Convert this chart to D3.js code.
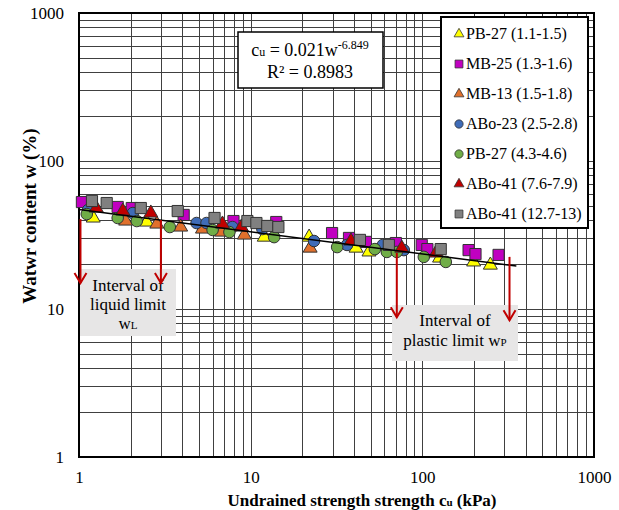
<!DOCTYPE html>
<html>
<head>
<meta charset="utf-8">
<script src="https://cdn.jsdelivr.net/npm/d3@7/dist/d3.min.js"></script>
<style>
	body { margin: 0; background: #fff; }
	svg text { font-family: "Liberation Serif", "Times New Roman", serif; }
</style>
</head>
<body>
<script>
// cu (kPa), w (%)
var pb27a = [[1.21,41.2],[2.48,38.7],[12.0,30.6],[21.9,30.6],[41.1,25.8],[48.9,24.3],[126,22.1],[199,20.8],[249,19.8]]
var mb25 = [[1.04,52.8],[1.68,48.9],[2.03,48.1],[4.07,43.2],[7.94,39.3],[14.1,38.7],[29.8,32.6],[37.4,30.2],[46.9,28.4],[70.1,27.9],[99.2,27.1],[107,25.4],[186,25.0],[204,23.5],[278,23.2]]
var mb13 = [[1.87,39.3],[2.84,37.5],[3.91,35.8],[5.24,34.7],[6.76,33.1],[9.19,31.6],[22.2,25.8]]
var abo23 = [[1.13,46.7],[2.06,44.5],[4.84,38.1],[5.53,38.1],[7.83,35.8],[11.7,34.7],[23.4,28.8],[36.4,27.1],[58.9,27.1],[78.0,25.0]]
var pb27b = [[1.11,43.8],[1.68,41.2],[2.17,39.3],[3.38,35.8],[6.00,34.2],[7.52,33.1],[13.7,30.6],[31.9,26.2],[52.9,25.4],[62.1,24.3],[71.0,24.3],[102,22.5],[137,20.8]]
var abo41a = [[1.26,48.1],[1.80,45.9],[2.62,44.5],[6.85,37.5],[8.83,35.8],[38.4,28.8],[75.9,25.8],[120,23.9]]
var abo41b = [[1.19,53.7],[1.45,52.0],[2.29,48.1],[3.76,45.9],[6.16,41.2],[9.57,39.3],[10.8,38.1],[12.5,36.4],[14.5,35.8],[43.3,29.3],[63.8,27.1],[128,25.4]]

var seriesNames = ['PB-27 (1.1-1.5)','MB-25 (1.3-1.6)','MB-13 (1.5-1.8)','ABo-23 (2.5-2.8)','PB-27 (4.3-4.6)','ABo-41 (7.6-7.9)','ABo-41 (12.7-13)']
var seriesData = [pb27a, mb25, mb13, abo23, pb27b, abo41a, abo41b]

var trendPoints = [[1,47],[353,19.5]]
// arrows: cu, top w, tip w
var arrowCu = [1.02, 3.0, 71, 322]
var arrowTop = [40.5, 39.9, 23.9, 22.5]
var arrowTip = [15.0, 15.0, 8.8, 8.4]

var xTickLabels = [1, 10, 100, 1000]
var yTickLabels = [1, 10, 100, 1000]

var colors = ['#ffff00','#c000c0','#e0702c','#3f6cb8','#70ad47','#c00000','#808080']
var shapes = [d3.symbolTriangle, d3.symbolSquare, d3.symbolTriangle, d3.symbolCircle, d3.symbolCircle, d3.symbolTriangle, d3.symbolSquare]
var bigSize = [85, 125, 85, 105, 105, 85, 125]
var smallSize = [42, 62, 42, 54, 54, 42, 62]

var svg = d3.select('body').append('svg')
	.attr('width', 619)
	.attr('height', 510)

var x = d3.scaleLog().domain([1, 1000]).range([79, 594])
var y = d3.scaleLog().domain([1, 1000]).range([457, 13])

// grid
svg.append('g').selectAll('line').data(x.ticks()).enter().append('line')
	.attr('x1', function(d){ return Math.round(x(d)) + 0.5 })
	.attr('x2', function(d){ return Math.round(x(d)) + 0.5 })
	.attr('y1', y(1000))
	.attr('y2', y(1))
	.style('stroke', '#404040')
	.style('stroke-width', 1)
svg.append('g').selectAll('line').data(y.ticks()).enter().append('line')
	.attr('y1', function(d){ return Math.round(y(d)) + 0.5 })
	.attr('y2', function(d){ return Math.round(y(d)) + 0.5 })
	.attr('x1', x(1))
	.attr('x2', x(1000))
	.style('stroke', '#404040')
	.style('stroke-width', 1)

svg.append('rect')
	.attr('x', x(1)).attr('y', y(1000))
	.attr('width', x(1000) - x(1)).attr('height', y(1) - y(1000))
	.style('fill', 'none').style('stroke', '#000').style('stroke-width', 2)

// axes
var xAxis = svg.append('g').attr('transform', 'translate(0,' + y(1) + ')')
	.call(d3.axisBottom(x).tickValues(xTickLabels).tickFormat(d3.format('d')).tickSize(0).tickPadding(14))
var yAxis = svg.append('g').attr('transform', 'translate(' + x(1) + ',0)')
	.call(d3.axisLeft(y).tickValues(yTickLabels).tickFormat(d3.format('d')).tickSize(0).tickPadding(15))
svg.selectAll('.domain').remove()
svg.selectAll('.tick text')
	.style('font-family', '"Liberation Serif", serif')
	.style('font-size', '17px')
	.style('fill', '#000')

// boxes under the arrows
var liquidBox = svg.append('g')
liquidBox.append('rect')
	.attr('x', 80).attr('y', 269).attr('width', 96).attr('height', 67)
	.style('fill', '#e7e6e6')
liquidBox.append('text').attr('x', 128).attr('y', 291).attr('text-anchor', 'middle')
	.style('font-size', '17px').text('Interval of')
liquidBox.append('text').attr('x', 128).attr('y', 310).attr('text-anchor', 'middle')
	.style('font-size', '17px').text('liquid limit')
var wl = liquidBox.append('text').attr('x', 128).attr('y', 329).attr('text-anchor', 'middle')
	.style('font-size', '17px')
wl.append('tspan').text('w')
wl.append('tspan').style('font-size', '11px').text('L')

var plasticBox = svg.append('g')
plasticBox.append('rect')
	.attr('x', 392).attr('y', 305).attr('width', 126).attr('height', 56)
	.style('fill', '#e7e6e6')
plasticBox.append('text').attr('x', 455).attr('y', 326).attr('text-anchor', 'middle')
	.style('font-size', '17px').text('Interval of')
var wp = plasticBox.append('text').attr('x', 455).attr('y', 346).attr('text-anchor', 'middle')
	.style('font-size', '17px')
wp.append('tspan').text('plastic limit w')
wp.append('tspan').style('font-size', '11px').text('P')

// scatter
seriesData.forEach(function(pts, i){
	svg.append('g').selectAll('path').data(pts).enter().append('path')
		.attr('d', d3.symbol().type(shapes[i]).size(bigSize[i]))
		.attr('transform', function(d){ return 'translate(' + x(d[0]) + ',' + y(d[1]) + ')' })
		.style('fill', colors[i])
		.style('stroke', '#333')
		.style('stroke-width', 1)
})

// trend line
var line = d3.line()
	.x(function(d){ return x(d[0]) })
	.y(function(d){ return y(d[1]) })
svg.append('path').datum(trendPoints)
	.attr('d', line)
	.style('fill', 'none').style('stroke', '#000').style('stroke-width', 1.5)

// arrows
arrowCu.forEach(function(c, i){
	var ax = x(c), y0 = y(arrowTop[i]), y1 = y(arrowTip[i])
	svg.append('line').attr('x1', ax).attr('x2', ax).attr('y1', y0).attr('y2', y1)
		.style('stroke', '#c00000').style('stroke-width', 2)
	svg.append('path')
		.attr('d', 'M' + (ax - 6) + ',' + (y1 - 10) + 'L' + ax + ',' + y1 + 'L' + (ax + 6) + ',' + (y1 - 10))
		.style('fill', 'none').style('stroke', '#c00000').style('stroke-width', 2)
})

// equation box
svg.append('rect')
	.attr('x', 238).attr('y', 32).attr('width', 145).attr('height', 56)
	.style('fill', '#fff').style('stroke', '#000').style('stroke-width', 1.5)
var eq = svg.append('text').attr('x', 310).attr('y', 56).attr('text-anchor', 'middle')
	.style('font-size', '18px')
eq.append('tspan').text('c')
eq.append('tspan').style('font-size', '12px').text('u')
eq.append('tspan').text(' = 0.021w')
eq.append('tspan').attr('dy', -7).style('font-size', '12px').text('-6.849')
svg.append('text').attr('x', 310).attr('y', 78).attr('text-anchor', 'middle')
	.style('font-size', '18px').text('R² = 0.8983')

// legend
var legend = svg.append('g')
legend.append('rect')
	.attr('x', 441).attr('y', 17).attr('width', 147).attr('height', 211)
	.style('fill', '#fff').style('stroke', '#000').style('stroke-width', 2)
seriesNames.forEach(function(name, i){
	var ly = 33 + i * 30
	legend.append('path')
		.attr('d', d3.symbol().type(shapes[i]).size(smallSize[i]))
		.attr('transform', 'translate(459,' + (ly + 1) + ')')
		.style('fill', colors[i]).style('stroke', '#333').style('stroke-width', 0.8)
	legend.append('text').attr('x', 466).attr('y', ly + 6)
		.style('font-size', '16px').text(name)
})

// axis titles
var xt = svg.append('text').attr('x', 362).attr('y', 506).attr('text-anchor', 'middle')
	.style('font-size', '17px').style('font-weight', 'bold')
xt.append('tspan').text('Undrained strength strength c')
xt.append('tspan').style('font-size', '11px').text('u')
xt.append('tspan').text(' (kPa)')

svg.append('text')
	.attr('transform', 'translate(36,216) rotate(-90)')
	.attr('text-anchor', 'middle')
	.style('font-size', '19px').style('font-weight', 'bold')
	.text('Watwr content w (%)')
</script>
</body>
</html>
